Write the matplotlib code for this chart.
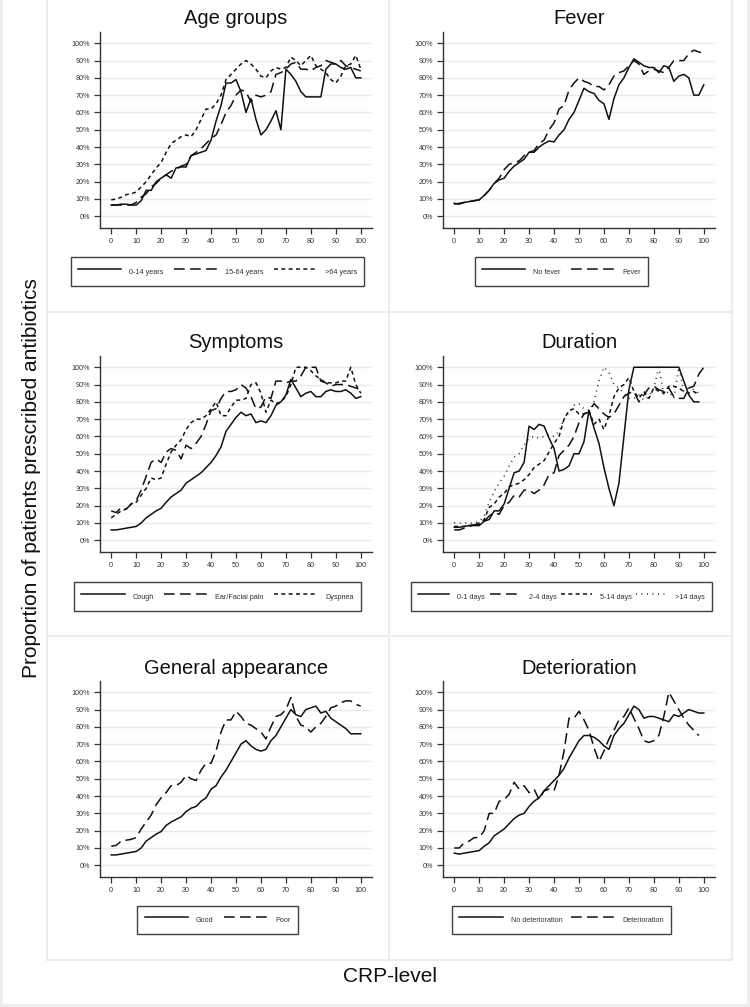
import numpy as np
import matplotlib
matplotlib.use("Agg")
import matplotlib.pyplot as plt
from matplotlib.lines import Line2D

plt.rcParams['font.family'] = ['Liberation Sans', 'DejaVu Sans']

W, H = 750, 1007

# CRP-level grid (every 2 units)
crp = np.arange(0, 101, 2)
nan = np.nan

# ---- Age groups ----
age_0_14 = [6.5, 6.5, 7, 7, 6.5, 6.5, 9, 15, 15, 20, 22, 24, 22, 28, 28.5, 28.5, 35, 36, 37, 38,
            44, 55, 64, 77, 77, 79, 72, 60, 68, 56, 47, 50, 55, 61, 50, 85, 82, 78, 72, 69,
            69, 69, 69, 85, 88, 88, 86, 85, 86, 80, 80]
age_15_64 = [6.5, 6.5, 6.5, 6.5, 6.5, 8, 11, 13, 17, 19, 22, 24, 26, 27, 29, 30, 35, 37, 39, 42,
             45, 47, 53, 60, 64, 70, 73, 72, 66, 70, 69, 70, 72, 82, 83, 85, 88, 89, 85, 85,
             84, 86, 87, 90, 89, 88, 90, 87, 86, 85, 84]
age_64 = [9.5, 10, 11, 12.5, 13, 14, 17, 20, 24, 28, 31, 37, 42, 44, 46, 47, 46, 50, 56, 62,
          62, 65, 70, 79, 82, 85, 88, 90, 88, 85, 81, 80, 84, 86, 85, 86, 92, 90, 87, 90,
          93, 87, 85, 83, 79, 77, 81, 87, 88, 93, 85]

# ---- Fever ----
no_fever = [7.5, 7, 8, 8.5, 9, 9.5, 12, 15, 19, 21, 22, 26, 29, 31, 33, 37, 37, 40, 42, 43.5,
            43, 47, 50, 56, 60, 67, 74, 72, 71, 67, 65, 56, 68, 76, 80, 86, 91, 89, 87, 86,
            86, 83, 87, 86, 78, 81, 82, 80, 70, 70, 76]
fever = [7, 7.5, 8, 8.5, 9, 9.5, 12, 15, 19, 22, 27, 30, 31, 32, 35, 37, 38, 42, 44, 50,
         54, 62, 64, 73, 77, 80, 78, 77, 75, 75, 73, 76, 81, 83, 84, 87, 90, 88, 82, 84,
         85, 84, 83, 86, 90, 90, 90, 94, 96, 95, 94]

# ---- Symptoms ----
cough = [6, 6, 6.5, 7, 7.5, 8, 10, 13, 15, 17, 18.5, 22, 25, 27, 29, 33, 35, 37, 39, 42,
         45, 49, 54, 63, 67, 71, 74, 72, 73, 68, 69, 68, 72, 78, 80, 84, 93, 88, 83, 85,
         86, 83, 83, 86, 87, 86, 86, 87, 85, 82, 83]
ear_pain = [17, 16, 19, 18, 21, 23, 29, 37, 45, 47, 45, 51, 53, 52, 47, 55, 53, 56, 60, 67,
            75, 76, 82, 86, 86, 87, 90, 88, 83, 76, 77, 83, 82, 92, 92, 91, 92, 92, 95, 100,
            100, 100, 92, 91, 89, 90, 90, 90, 89, 88, 87]
dyspnea = [13, 15, 17, 18, 21, 22, 26, 30, 36, 35, 36, 44, 51, 55, 58, 64, 68, 70, 70, 72,
           76, 80, 72, 72, 77, 81, 81, 82, 90, 91, 85, 74, 81, 79, 80, 83, 90, 100, 100, 100,
           98, 95, 93, 91, 91, 91, 92, 92, 100, 90, 85]

# ---- Duration ----
d_0_1 = [7.5, 7.5, 8, 8.5, 8.5, 8.5, 11, 12, 17, 17, 21, 30, 39, 40, 45, 66, 64, 67, 66, 59,
         53, 40, 41, 43, 50, 50, 57, 75, 65, 56, 42, 30, 20, 33, 60, 87, 100, 100, 100, 100,
         100, 100, 100, 100, 100, 100, 92, 84, 80, 80, nan]
d_2_4 = [6, 6, 7, 8, 9, 9, 11, 14, 16, 15, 20, 22, 26, 25, 29, 29, 27, 29, 32, 38,
         39, 49, 52, 55, 60, 68, 73, 74, 79, 76, 73, 71, 73, 78, 83, 85, 86, 80, 84, 88,
         89, 87, 86, 88, 83, 82, 82, 88, 89, 96, 100]
d_5_14 = [8, 8, 8, 8.5, 9, 10, 12, 19, 21, 25, 27, 31, 32, 33, 35, 38, 42, 44, 46, 51,
          56, 60, 70, 75, 76, 73, 73, 75, 67, 70, 64, 72, 83, 88, 90, 94, 86, 82, 86, 82,
          88, 86, 85, 89, 89, 88, 86, 85, 86, 84, nan]
d_14 = [10, 10, 10, 10, 10, 11, 14, 22, 28, 33, 37, 43, 48, 50, 55, 59, 60, 59, 60, 61,
        60, 63, 70, 74, 78, 79, 76, 75, 80, 92, 100, 97, 90, 88, 85, 82, 82, 84, 81, 83,
        88, 100, 84, 86, 82, 100, 86, 88, 87, 85, nan]

# ---- General appearance ----
good = [6, 6, 6.5, 7, 7.5, 8, 10, 14, 16, 18, 19.5, 23, 25, 26.5, 28, 31, 33, 34, 37, 39,
        44, 46, 51, 55, 60, 65, 70, 72, 69, 67, 66, 67, 72, 75, 80, 85, 90, 87, 86, 90,
        91, 92, 88, 89, 85, 83, 81, 79, 76, 76, 76]
poor = [11, 11.5, 14, 14.5, 15, 16, 21, 25, 29, 35, 39, 42, 46, 46, 48, 52, 50, 49, 55, 59,
        59, 66, 77, 84, 84, 89, 86, 82, 81, 79, 77, 73, 80, 86, 87, 90, 97, 86, 81, 80,
        77, 80, 82, 86, 91, 92, 94, 95, 95, 93, 92]

# ---- Deterioration ----
no_det = [7, 6.5, 7, 7.5, 8, 8.5, 11, 13, 17, 19, 21, 24, 27, 29, 30, 34, 37, 39, 43, 46,
          49, 52, 56, 62, 67, 72, 75, 75, 74, 72, 69, 67, 75, 79, 82, 87, 92, 90, 85, 86,
          86, 85, 84, 83, 87, 86, 88, 90, 89, 88, 88]
det = [10, 10, 13, 14, 16, 16, 20, 30, 30, 37, 38, 41, 48, 44, 46, 42, 44, 38, 43, 44,
       43, 52, 66, 85, 85, 89, 84, 78, 68, 60, 66, 73, 78, 84, 86, 91, 85, 79, 72, 71,
       72, 75, 86, 100, 95, 90, 85, 81, 78, 75, nan]

panels = [
    ("Age groups", [age_0_14, age_15_64, age_64], ["0-14 years", "15-64 years", ">64 years"]),
    ("Fever", [no_fever, fever], ["No fever", "Fever"]),
    ("Symptoms", [cough, ear_pain, dyspnea], ["Cough", "Ear/Facial pain", "Dyspnea"]),
    ("Duration", [d_0_1, d_2_4, d_5_14, d_14], ["0-1 days", "2-4 days", "5-14 days", ">14 days"]),
    ("General appearance", [good, poor], ["Good", "Poor"]),
    ("Deterioration", [no_det, det], ["No deterioration", "Deterioration"]),
]

styles = ["-", (0, (7, 3.5)), (0, (2.6, 2.2)), (0, (0.6, 3))]

# per-panel legend tuning: handlelength, columnspacing
leg_opts = [(6.0, 1.4), (6.0, 1.4), (6.0, 1.4), (4.3, 0.6), (6.0, 1.4), (6.0, 1.2)]

fig = plt.figure(figsize=(W / 100, H / 100), dpi=100)
fig.patch.set_facecolor("white")


def fx(x):
    return x / W


def fy(y):
    return 1 - y / H


# panel frame lines (light gray)
gcol = "#ececec"
for (x0, y0, x1, y1) in [(47, 0, 47, 960), (389, 0, 389, 960), (732, 0, 732, 960),
                         (47, 960, 732, 960), (47, 312, 732, 312), (47, 636, 732, 636)]:
    fig.add_artist(Line2D([fx(x0), fx(x1)], [fy(y0), fy(y1)], color=gcol, lw=1.5))
# outer border
for (x0, y0, x1, y1) in [(1, 0, 1, 1005), (748, 0, 748, 1005), (1, 1005, 748, 1005)]:
    fig.add_artist(Line2D([fx(x0), fx(x1)], [fy(y0), fy(y1)], color="#eeeeee", lw=2))

col_left = [100, 443]
ax_w = 272
row_top = [32, 356, 681]
ax_h = 196.4
leg_y = [271.5, 596.5, 920]
leg_x = [217.5, 561.5]

for i, (title, series, labels) in enumerate(panels):
    r, c = divmod(i, 2)
    left = col_left[c]
    top = row_top[r]
    ax = fig.add_axes([fx(left), fy(top + ax_h), ax_w / W, ax_h / H])
    ax.set_xlim(-4.5, 104.5)
    ax.set_ylim(-0.07, 1.065)
    yt = np.arange(0, 1.01, 0.1)
    ax.set_yticks(yt)
    ax.set_yticklabels([f"{int(round(v * 100))}%" for v in yt])
    ax.set_xticks(np.arange(0, 101, 10))
    ax.tick_params(axis="both", labelsize=5.2, colors="#333333", length=4, width=0.9,
                   direction="out", pad=3)
    ax.yaxis.grid(True, color="#e9e9e9", lw=1.0)
    ax.set_axisbelow(True)
    for s in ["top", "right"]:
        ax.spines[s].set_visible(False)
    for s in ["left", "bottom"]:
        ax.spines[s].set_color("#333333")
        ax.spines[s].set_linewidth(1.0)

    handles = []
    for k, vals in enumerate(series):
        v = np.array(vals, dtype=float) / 100.0
        ln, = ax.plot(crp, v, color="#111111", lw=1.1, linestyle=styles[k],
                      label=labels[k])
        handles.append(ln)

    ax.text(0.5, 1 + 13 / ax_h, title, transform=ax.transAxes, ha="center", va="center",
            fontsize=14.5, color="#111111")

    hl, cs = leg_opts[i]
    leg = ax.legend(handles=handles, loc="center", ncol=len(handles),
                    bbox_to_anchor=(fx(leg_x[c]), fy(leg_y[r])),
                    bbox_transform=fig.transFigure, fontsize=5.2, frameon=True,
                    fancybox=False, edgecolor="#111111", borderpad=1.0,
                    handleheight=2.7, handlelength=hl, handletextpad=1.1,
                    columnspacing=cs)
    leg.get_frame().set_linewidth(1.0)
    for t in leg.get_texts():
        t.set_color("#333333")

fig.text(fx(32), fy(478), "Proportion of patients prescribed antibiotics", rotation=90,
         ha="center", va="center", fontsize=15, color="#111111")
fig.text(fx(390), fy(977), "CRP-level", ha="center", va="center", fontsize=15,
         color="#111111")

fig.savefig("out.png", dpi=100)
